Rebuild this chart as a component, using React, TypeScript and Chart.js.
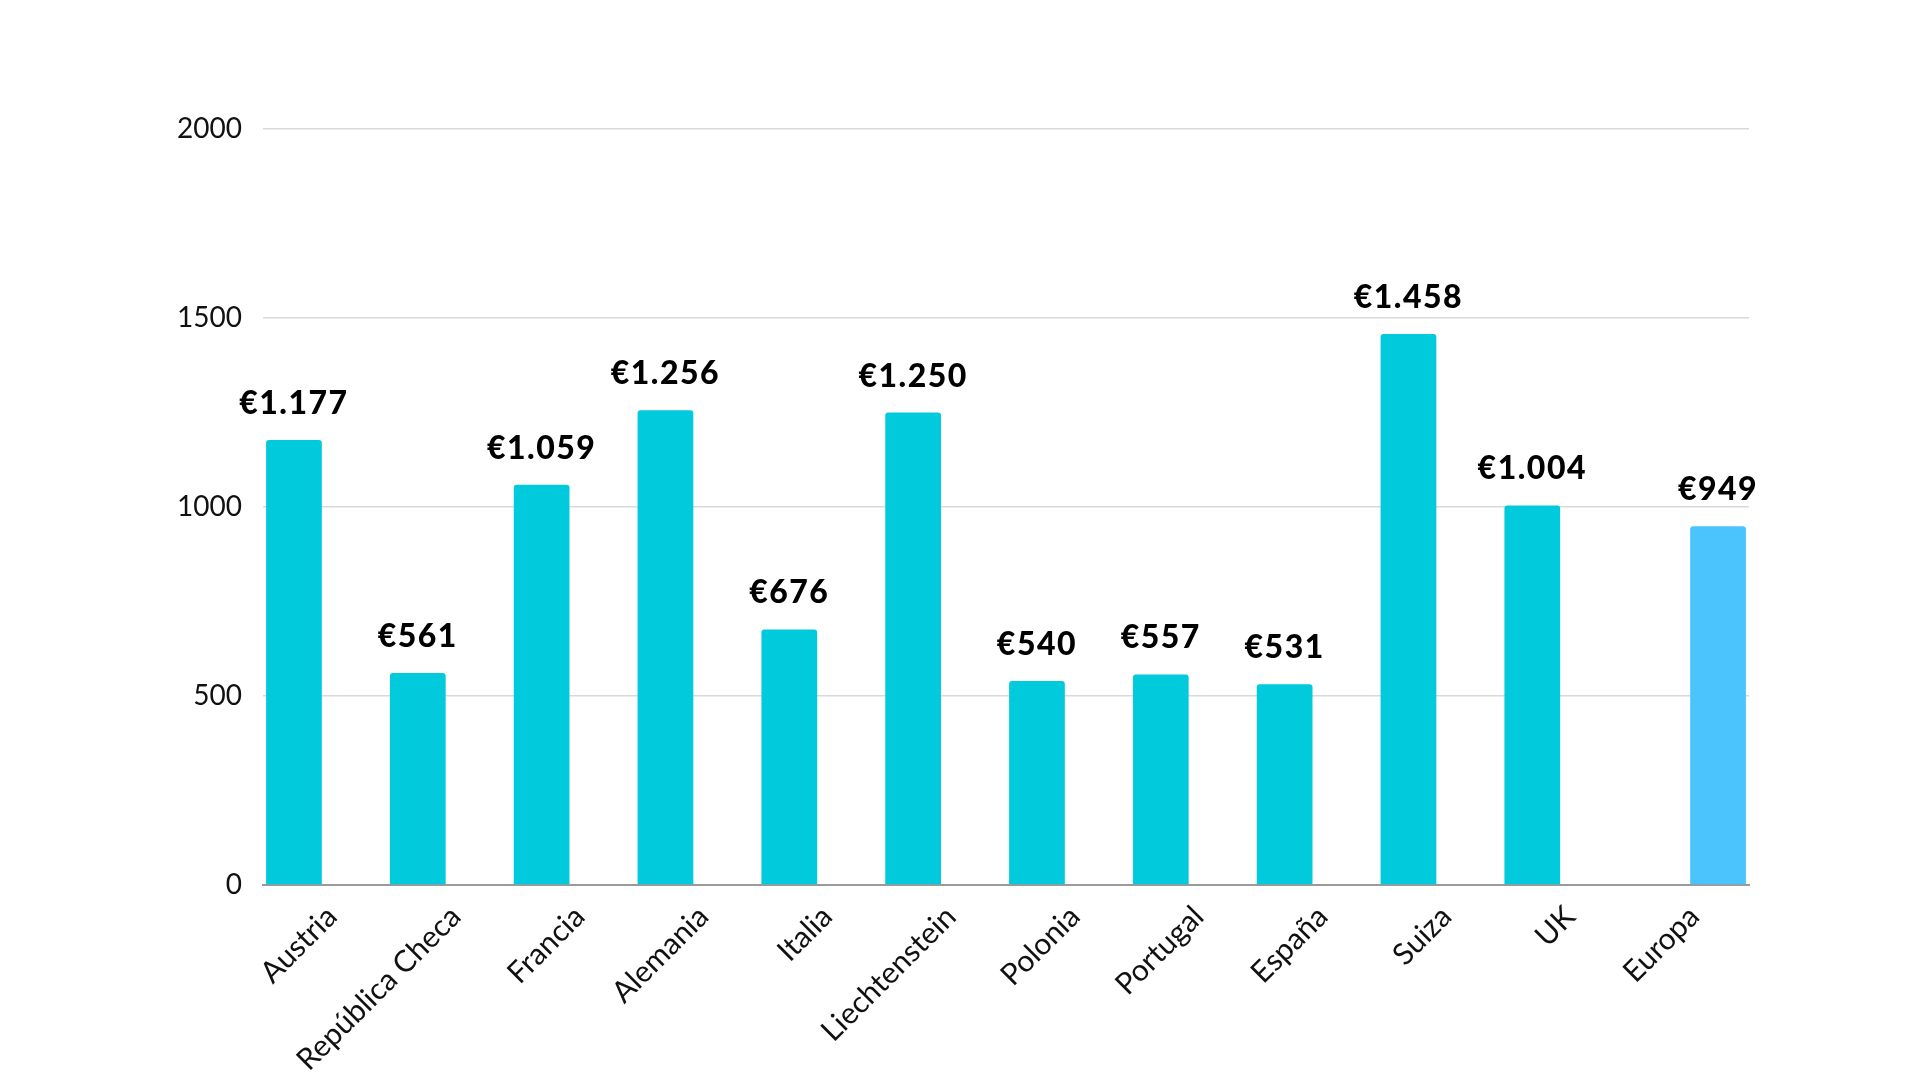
import { useEffect, useRef } from "react";
import { Chart, registerables } from "chart.js";
import type { ChartConfiguration, Plugin as ChartPlugin, Scale } from "chart.js";

Chart.register(...registerables);

const countries = ["Austria", "República Checa", "Francia", "Alemania", "Italia", "Liechtenstein", "Polonia", "Portugal", "España", "Suiza", "UK", "Europa"];
const countryCosts = [1177, 561, 1059, 1256, 676, 1250, 540, 557, 531, 1458, 1004, null];
const europeCost = [null, null, null, null, null, null, null, null, null, null, null, 949];
const yTicks = [0, 500, 1000, 1500, 2000];

const barColor = "#00CADB";
const europeColor = "#4BC4FE";

function formatEuro(v: number): string {
    return "€" + String(v).replace(/\B(?=(\d{3})+(?!\d))/g, ".");
}

// draws the "€1.177" labels above each bar
const valueLabelPlugin: ChartPlugin = {
    id: "valueLabelPlugin",
    afterDatasetsDraw: (chart: Chart) => {
        const ctx = chart.ctx;
        ctx.save();
        ctx.font = "900 32px Lato";
        ctx.fillStyle = "#000";
        ctx.textAlign = "center";
        ctx.textBaseline = "alphabetic";
        (ctx as any).letterSpacing = "1.5px";
        chart.data.datasets.forEach((ds, di) => {
            const meta = chart.getDatasetMeta(di);
            meta.data.forEach((bar, i) => {
                const v = ds.data[i] as number | null;
                if (v == null) return;
                ctx.fillText(formatEuro(v), bar.x, bar.y - 26);
            });
        });
        ctx.restore();
    }
};

function getConfig(): ChartConfiguration {
    return {
        type: "bar",
        data: {
            labels: countries,
            datasets: [
                {
                    label: "Coste",
                    data: countryCosts,
                    backgroundColor: barColor,
                    borderRadius: 3,
                    borderSkipped: "bottom",
                    categoryPercentage: 1,
                    barPercentage: 0.9,
                },
                {
                    label: "Europa",
                    data: europeCost,
                    backgroundColor: europeColor,
                    borderRadius: 3,
                    borderSkipped: "bottom",
                    categoryPercentage: 1,
                    barPercentage: 0.9,
                }
            ]
        },
        options: {
            animation: false,
            responsive: true,
            maintainAspectRatio: false,
            layout: {
                padding: { left: 0, right: 171, top: 129, bottom: 0 }
            },
            scales: {
                x: {
                    afterFit: function (scale: Scale) {
                        scale.height = 195;
                    },
                    grid: { display: false },
                    border: { display: true, color: "#9a9a9a", width: 2 },
                    ticks: {
                        color: "#111",
                        font: { family: "Lato", size: 30, weight: 400 },
                        minRotation: 45,
                        maxRotation: 45,
                        padding: 6,
                        labelOffset: 7,
                        autoSkip: false,
                    }
                },
                y: {
                    min: yTicks[0],
                    max: yTicks[yTicks.length - 1],
                    afterFit: function (scale: Scale) {
                        scale.width = 263;
                    },
                    afterBuildTicks: function (scale: Scale) {
                        scale.ticks = yTicks.map(v => ({ value: v }));
                    },
                    grid: {
                        color: "#d9d9d9",
                        lineWidth: 1.5,
                        drawTicks: false,
                    },
                    border: { display: false },
                    ticks: {
                        color: "#111",
                        font: { family: "Lato", size: 28, weight: 400 },
                        padding: 21,
                        callback: (v) => String(v),
                    }
                }
            },
            plugins: {
                legend: { display: false },
                tooltip: { enabled: false },
            }
        },
        plugins: [valueLabelPlugin]
    };
}

export default function App() {
    const canvasRef = useRef<HTMLCanvasElement>(null);

    useEffect(() => {
        if (!canvasRef.current) {
            return;
        }
        const chart = new Chart(canvasRef.current, getConfig());
        return () => {
            chart.destroy();
        };
    }, []);

    return (
        <div style={{ position: "fixed", left: 0, top: 0, width: 1920, height: 1080, background: "#fff" }}>
            <canvas ref={canvasRef} />
        </div>
    );
}
